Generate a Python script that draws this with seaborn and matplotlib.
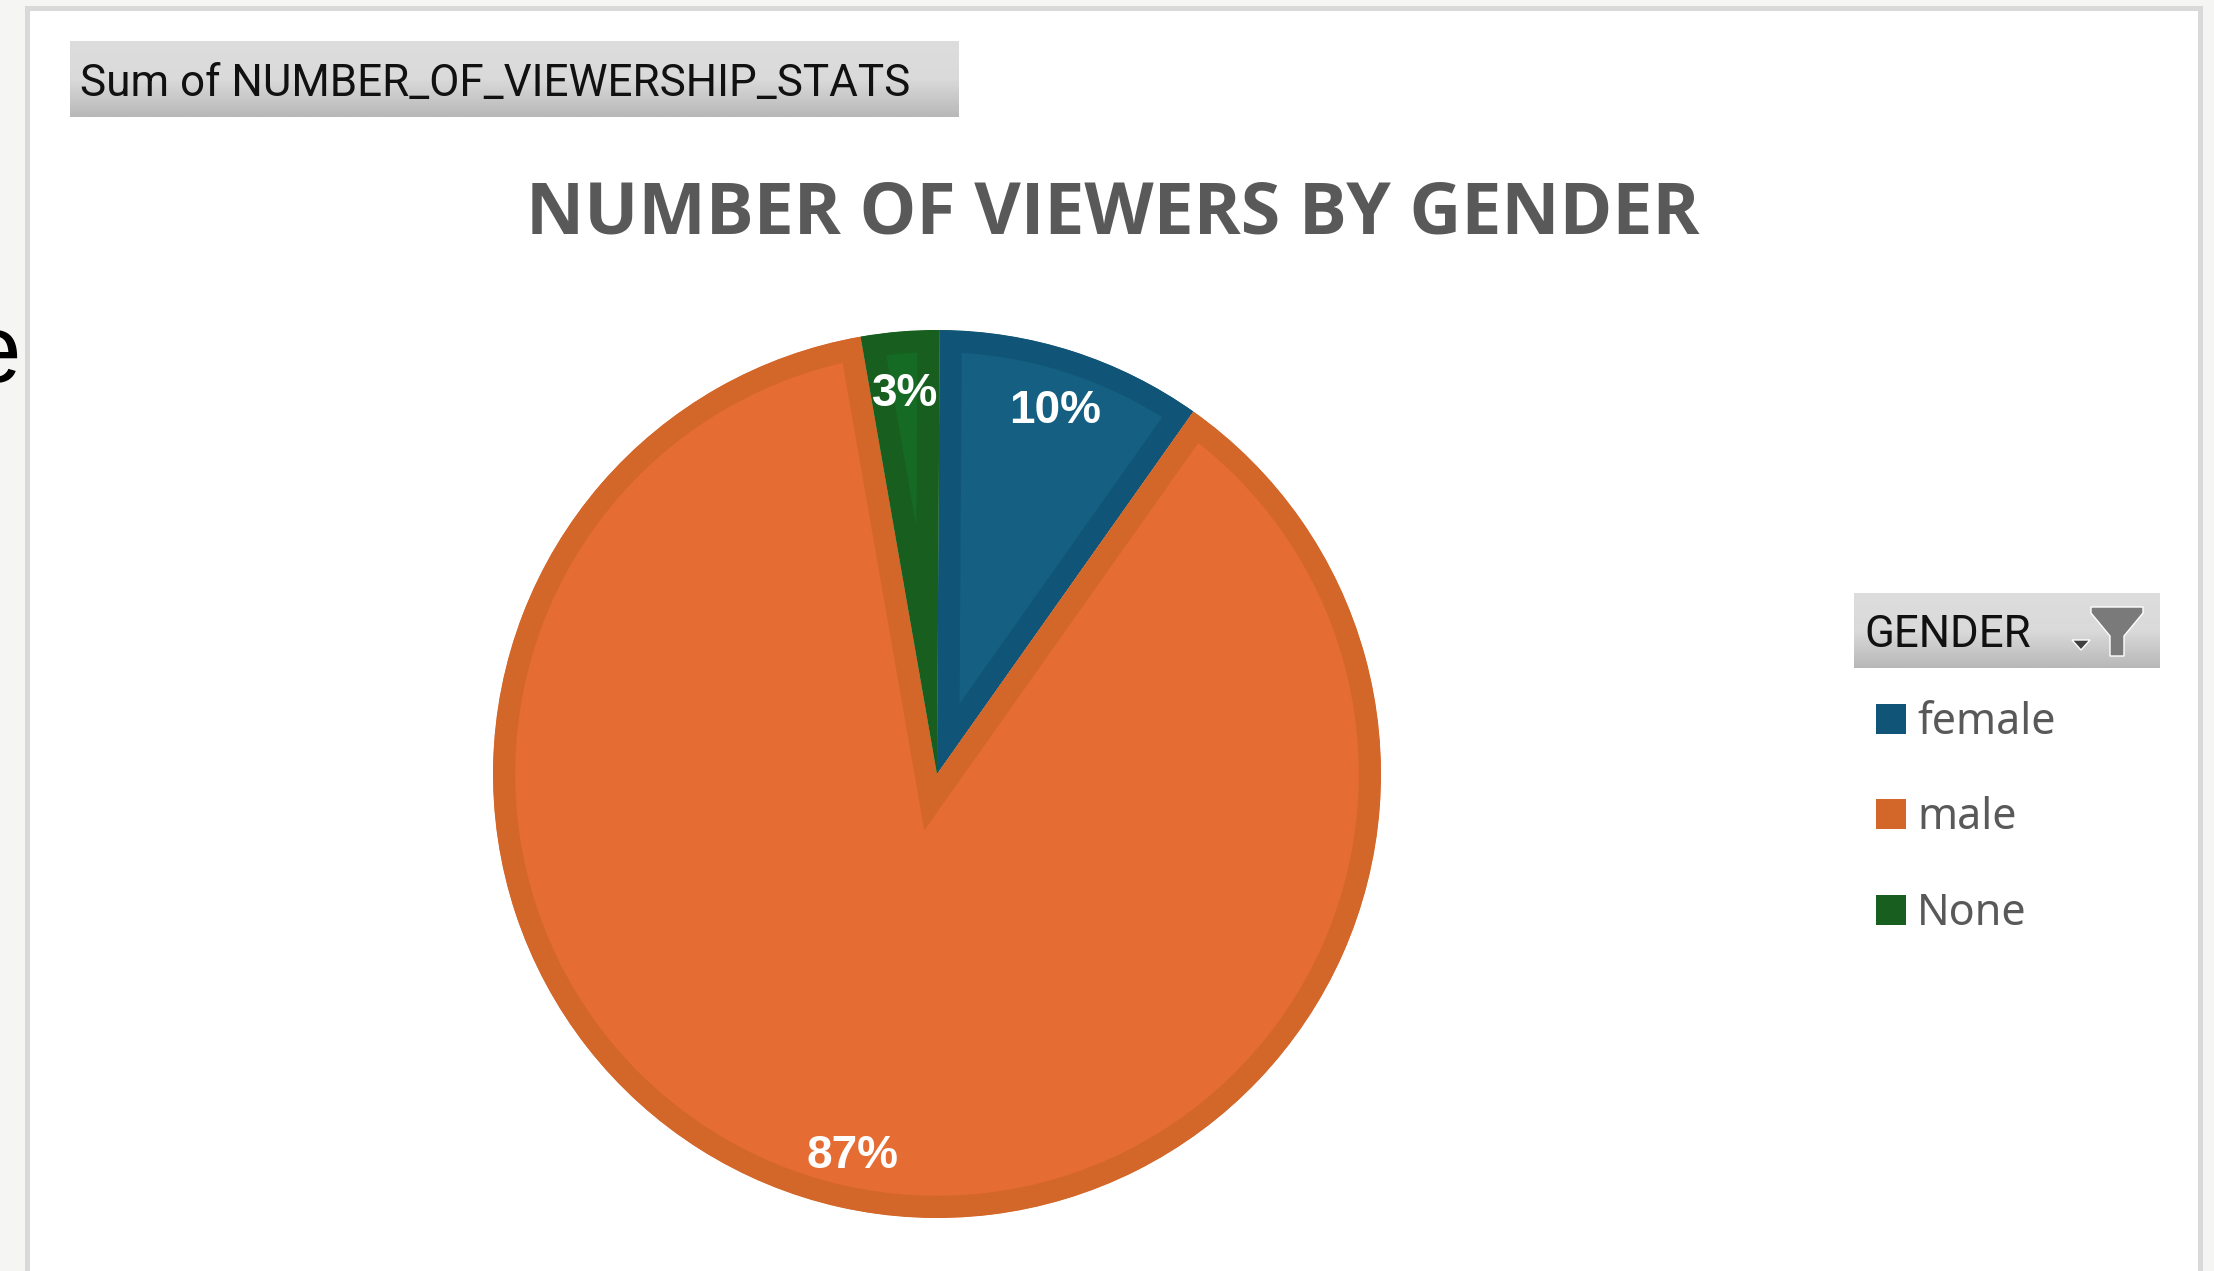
import numpy as np
import matplotlib
matplotlib.use("Agg")
import matplotlib.pyplot as plt
from matplotlib.patches import Patch, Polygon, Rectangle
import seaborn as sns

categories = ["female", "male", "None"]
shares = [9.7, 87.45, 2.85]
face_colors = ["#156082", "#E56C33", "#156B24"]
edge_colors = ["#105578", "#D36729", "#185F1F"]
title = "NUMBER OF VIEWERS BY GENDER"
field_label = "Sum of NUMBER_OF_VIEWERSHIP_STATS"
legend_title = "GENDER"

W, H = 2214, 1271
sns.set_theme(style="white")
GREY = "#595959"
fig = plt.figure(figsize=(W / 100, H / 100), dpi=100, facecolor="#F5F5F3")

bg = fig.add_axes([0, 0, 1, 1])
bg.set_axis_off()
bg.add_patch(Rectangle((27, 8), 2173, 1300, facecolor="white", edgecolor="#D9D9D9", linewidth=3.6))

grad = np.linspace(0, 1, 64).reshape(-1, 1)
cmap = sns.blend_palette(["#DDDDDD", "#DADADA", "#B8B8B8"], as_cmap=True)
for x0, x1, y0, y1 in [(70, 959, 41, 117), (1854, 2160, 593, 668)]:
    bg.imshow(grad, cmap=cmap, extent=(x0, x1, y1, y0), aspect="auto", zorder=2)
bg.set_xlim(0, W)
bg.set_ylim(H, 0)

bg.text(80, 84, field_label, family="Roboto", fontsize=31.7,
        color="#111111", va="center", ha="left", zorder=3)
bg.text(1864, 635, legend_title, family="Roboto", fontsize=31.5,
        color="#111111", va="center", ha="left", zorder=3)
bg.add_patch(Polygon([(2091, 607), (2143, 607), (2143, 613), (2124, 636), (2124, 656),
                      (2110, 656), (2110, 636), (2091, 613)], facecolor="#7A7A7A", zorder=3))
bg.add_patch(Polygon([(2072, 640), (2090, 640), (2081, 650)], facecolor="#404040", zorder=3))

bg.text(1113, 215, title, family="Open Sans", fontweight="bold", fontsize=51.6,
        color=GREY, ha="center", va="center")
bg.text(21, 357, "e", family="Liberation Sans", fontsize=69, color="black", ha="right", va="center")

R = 444
cx, cy = 937, 774
ax = fig.add_axes([(cx - R) / W, 1 - (cy + R) / H, 2 * R / W, 2 * R / H])
wedges, _, autotexts = ax.pie(
    shares, colors=sns.color_palette(face_colors), startangle=89.65, counterclock=False,
    autopct="%.0f%%", pctdistance=0.87, radius=1,
    textprops=dict(color="white", fontweight="bold", family="Liberation Sans", fontsize=33),
)
for wedge, edge in zip(wedges, edge_colors):
    wedge.set_edgecolor(edge)
    wedge.set_linewidth(32)
    wedge.set_joinstyle("miter")
    wedge.set_clip_on(True)
    wedge.set_clip_path(wedge)
for label in autotexts:
    label.set_verticalalignment("center_baseline")
ax.set_xlim(-1, 1)
ax.set_ylim(-1, 1)
ax.patch.set_visible(False)

handles = [Patch(facecolor=c, edgecolor="none") for c in edge_colors]
fig.legend(handles, categories, loc="upper left", bbox_to_anchor=(1862 / W, 1 - 687 / H),
           frameon=False, labelcolor=GREY, handlelength=0.7, handleheight=0.7,
           handletextpad=0.26, labelspacing=1.2, borderpad=0.32, borderaxespad=0,
           prop=dict(family="Noto Sans", size=31))

fig.savefig("out.png", dpi=100, facecolor=fig.get_facecolor())
